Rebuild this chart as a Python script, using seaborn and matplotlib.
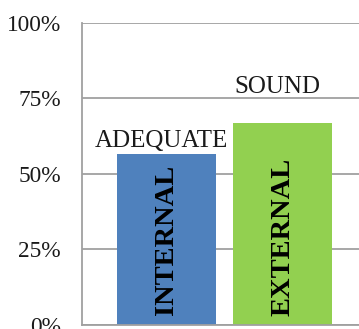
import matplotlib
matplotlib.use("Agg")
import matplotlib.pyplot as plt
import seaborn as sns
import pandas as pd

categories = ["INTERNAL", "EXTERNAL"]
values = [56.5, 66.8]
top_labels = ["ADEQUATE", "SOUND"]
label_heights = [60.8, 78.7]
inner_heights = [28.1, 29.1]
colors = ["#4F81BD", "#92D050"]
yticks = [0, 25, 50, 75, 100]
ytick_labels = ["0%", "25%", "50%", "75%", "100%"]

sns.set_theme(style="white")
plt.rcParams['font.family'] = ['Liberation Serif', 'DejaVu Serif']

df = pd.DataFrame({"cat": categories, "val": values})

fig = plt.figure(figsize=(3.59, 3.29), dpi=100)
W, H = 359, 329
left_px, right_px, top_px, bot_px = 81.7, 380, 22.7, 325
ax = fig.add_axes([left_px / W, (H - bot_px) / H, (right_px - left_px) / W, (bot_px - top_px) / H])

sns.barplot(data=df, x="cat", y="val", hue="cat", palette=colors, width=0.85,
            legend=False, ax=ax, saturation=1, linewidth=0)

unit = 116.0
x0 = -(166.5 - left_px) / unit
ax.set_xlim(x0, x0 + (right_px - left_px) / unit)
ax.set_ylim(0, 100)
ax.set_yticks(yticks)
ax.set_yticklabels(ytick_labels, fontsize=16.8, color="#1a1a1a")
ax.set_xticks([])
ax.set_xlabel("")
ax.set_ylabel("")
ax.yaxis.grid(True, color="#a0a0a0", linewidth=1.3)
ax.set_axisbelow(True)
ax.tick_params(axis="y", length=0, pad=15)
for s in ["top", "right"]:
    ax.spines[s].set_visible(False)
for s in ["left", "bottom"]:
    ax.spines[s].set_color("#a0a0a0")
    ax.spines[s].set_linewidth(1.3)

for i, (c, h) in enumerate(zip(categories, inner_heights)):
    ax.text(i, h, c, rotation=90, ha="center", va="center", fontsize=20.5,
            fontweight="bold", color="black")
for i, (t, h) in enumerate(zip(top_labels, label_heights)):
    ax.text(i - 0.045, h, t, ha="center", va="center", fontsize=18, color="#1a1a1a")

fig.savefig("out.png", dpi=100)
